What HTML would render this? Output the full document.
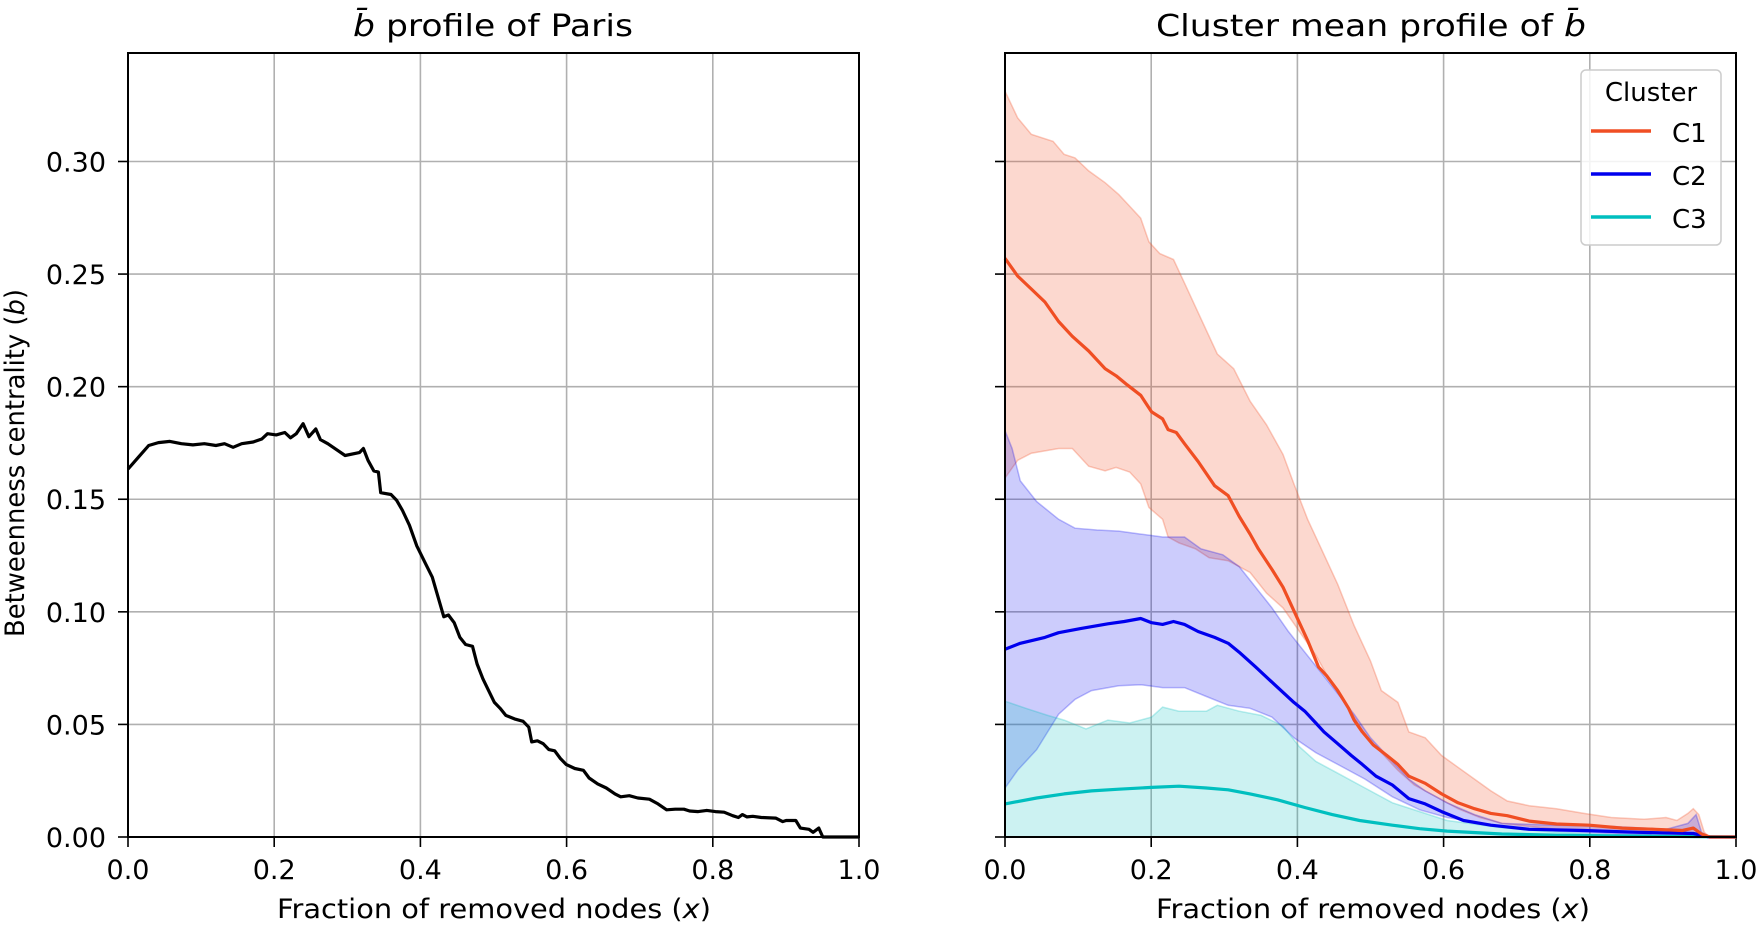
<!DOCTYPE html>
<html><head><meta charset="utf-8"><style>
html,body{margin:0;padding:0;background:#fff}
svg{display:block}
text{font-family:"DejaVu Sans","Liberation Sans",sans-serif;fill:#000}
</style></head><body>
<svg id="s" width="1759" height="925" viewBox="0 0 1759 925" xmlns="http://www.w3.org/2000/svg">
<g id="g"></g>
<text x="493" y="36" font-size="30" text-anchor="middle" textLength="280" lengthAdjust="spacingAndGlyphs"><tspan font-style="italic">b̄</tspan> profile of Paris</text>
<text x="1371" y="36" font-size="30" text-anchor="middle" textLength="430" lengthAdjust="spacingAndGlyphs">Cluster mean profile of <tspan font-style="italic">b̄</tspan></text>
<text x="494" y="918" font-size="27" text-anchor="middle" textLength="434" lengthAdjust="spacingAndGlyphs">Fraction of removed nodes (<tspan font-style="italic">x</tspan>)</text>
<text x="1373" y="918" font-size="27" text-anchor="middle" textLength="434" lengthAdjust="spacingAndGlyphs">Fraction of removed nodes (<tspan font-style="italic">x</tspan>)</text>
<text transform="translate(24,463) rotate(-90)" font-size="27" text-anchor="middle" textLength="348" lengthAdjust="spacingAndGlyphs">Betweenness centrality (<tspan font-style="italic">b</tspan>)</text>
<g id="leg">
<rect x="1581" y="70" width="140" height="175" rx="5" fill="#fff" fill-opacity="0.85" stroke="#ccc" stroke-width="1.5"/>
<text x="1651" y="101" font-size="26" text-anchor="middle">Cluster</text>
<line x1="1591" y1="131" x2="1651" y2="131" stroke="#f04e23" stroke-width="3.5"/>
<text x="1672" y="142" font-size="26">C1</text>
<line x1="1591" y1="174" x2="1651" y2="174" stroke="#0000ee" stroke-width="3.5"/>
<text x="1672" y="185" font-size="26">C2</text>
<line x1="1591" y1="217" x2="1651" y2="217" stroke="#00bfbf" stroke-width="3.5"/>
<text x="1672" y="228" font-size="26">C3</text>
</g>
</svg>
<script>
const NS="http://www.w3.org/2000/svg";
const g=document.getElementById('g');
function el(t,a){const e=document.createElementNS(NS,t);for(const k in a)e.setAttribute(k,a[k]);g.appendChild(e);return e;}
const Y0=837,YS=2251.7,W=731,TOP=53;
function py(y){return Y0-y*YS;}
const L=128,R=1005;
[L,R].forEach((ox,i)=>{
 for(let k=1;k<5;k++){const x=ox+k*0.2*W;el('line',{x1:x,y1:TOP,x2:x,y2:Y0,stroke:'#b0b0b0','stroke-width':1.6});}
 for(let k=1;k<=6;k++){const y=py(k*0.05);el('line',{x1:ox,y1:y,x2:ox+W,y2:y,stroke:'#b0b0b0','stroke-width':1.6});}
 for(let k=0;k<=5;k++){const x=ox+k*0.2*W;el('line',{x1:x,y1:Y0,x2:x,y2:Y0+10,stroke:'#000','stroke-width':1.6});
  const t=el('text',{x:x,y:879,'font-size':27,'text-anchor':'middle'});t.textContent=(k*0.2).toFixed(1);}
 for(let k=0;k<=6;k++){const y=py(k*0.05);el('line',{x1:ox-10,y1:y,x2:ox,y2:y,stroke:'#000','stroke-width':1.6});
  if(i==0){const t=el('text',{x:ox-22,y:y+10,'font-size':27,'text-anchor':'end'});t.textContent=(k*0.05).toFixed(2);}}
});
function conv(pts,ox,zx0,zw){return pts.map(p=>[ox+(p[0]-zx0)/zw*W, Y0-(1418-p[1])/(1144/0.30)*YS]);}
function pl(a){return a.map(p=>p[0].toFixed(1)+','+p[1].toFixed(1)).join(' ');}
function line(pts,col,w){el('polyline',{points:pl(pts),fill:'none',stroke:col,'stroke-width':w,'stroke-linejoin':'round'});}
function band(up,lo,col,a){const p=up.concat(lo.slice().reverse());el('polygon',{points:pl(p),fill:col,'fill-opacity':a,stroke:col,'stroke-opacity':a*1.3,'stroke-width':1.5});}
const paris=[[222,795],[240,775],[258,755],[275,750],[295,748],[315,752],[335,754],[355,752],[375,755],[390,752],[405,758],[420,752],[440,749],[455,744],[465,735],[480,737],[495,733],[505,742],[515,735],[527,718],[537,740],[549,727],[557,745],[570,752],[585,762],[600,772],[625,767],[632,760],[640,780],[650,798],[658,800],[662,835],[680,838],[690,848],[700,865],[712,890],[725,925],[740,955],[752,978],[760,1005],[772,1045],[780,1042],[790,1055],[800,1080],[810,1092],[822,1095],[830,1125],[840,1150],[850,1170],[860,1190],[870,1200],[880,1212],[895,1218],[910,1222],[920,1232],[925,1257],[935,1255],[945,1260],[955,1270],[965,1272],[975,1285],[985,1295],[1000,1302],[1015,1305],[1025,1318],[1040,1328],[1055,1335],[1070,1345],[1080,1350],[1095,1348],[1110,1352],[1130,1354],[1145,1362],[1160,1372],[1175,1371],[1190,1371],[1200,1374],[1215,1375],[1230,1373],[1245,1375],[1260,1376],[1275,1382],[1285,1385],[1292,1380],[1300,1384],[1310,1383],[1325,1385],[1350,1386],[1362,1392],[1368,1390],[1385,1390],[1393,1403],[1408,1405],[1415,1410],[1425,1403],[1432,1418],[1495,1418]];
line(conv(paris,L,222,1273),'#000',3.2);
const c=(p)=>conv(p,R,192,1336);
const c1u=[[192,155],[215,200],[240,228],[280,240],[300,262],[320,268],[345,290],[375,310],[400,330],[420,350],[440,370],[455,410],[475,430],[500,440],[520,480],[550,540],[580,600],[610,625],[640,680],[670,720],[700,770],[720,820],[745,880],[770,930],[800,990],[830,1060],[860,1120],[880,1170],[910,1190],[930,1240],[960,1250],[990,1280],[1020,1300],[1050,1320],[1080,1340],[1110,1357],[1150,1365],[1200,1370],[1250,1378],[1300,1385],[1360,1388],[1400,1385],[1420,1390],[1440,1378],[1450,1370],[1460,1380],[1470,1410],[1480,1418]];
const c1l=[[192,810],[215,780],[240,768],[290,760],[315,760],[345,790],[375,798],[395,792],[420,800],[440,820],[455,860],[480,880],[490,910],[510,920],[540,930],[565,945],[600,950],[640,970],[670,1005],[700,1030],[730,1070],[760,1110],[790,1160],[820,1200],[850,1245],[880,1275],[910,1305],[940,1330],[980,1350],[1020,1370],[1060,1385],[1100,1395],[1150,1400],[1200,1405],[1300,1410],[1400,1412],[1480,1418]];
const c2u=[[192,730],[205,760],[220,815],[250,850],[290,880],[320,895],[360,898],[400,900],[440,905],[480,910],[520,910],[550,930],[590,940],[620,960],[650,995],[680,1030],[710,1070],[740,1105],[770,1140],[800,1175],[830,1210],[860,1250],[890,1280],[930,1320],[960,1340],[1000,1360],[1050,1380],[1100,1395],[1200,1398],[1300,1400],[1400,1405],[1440,1395],[1455,1380],[1465,1410],[1480,1418]];
const c2l=[[192,1335],[215,1305],[250,1270],[290,1210],[320,1185],[350,1170],[400,1162],[440,1160],[480,1165],[520,1165],[560,1180],[600,1195],[640,1200],[680,1215],[720,1250],[760,1275],[800,1295],[850,1320],[900,1350],[950,1372],[1000,1385],[1100,1400],[1200,1408],[1300,1412],[1480,1418]];
const c3u=[[192,1188],[230,1200],[270,1212],[300,1220],[340,1235],[380,1220],[420,1225],[460,1215],[480,1198],[510,1205],[560,1205],[580,1195],[620,1205],[660,1212],[700,1230],[730,1265],[760,1290],[800,1310],[850,1335],[900,1360],[950,1375],[1000,1390],[1100,1402],[1200,1410],[1300,1414],[1528,1418]];
const c3l=[[192,1418],[1528,1418]];
band(c(c1u),c(c1l),'#f04e23',0.22);
band(c(c2u),c(c2l),'#0000ee',0.2);
band(c(c3u),c(c3l),'#00bfbf',0.2);
const c1=[[192,438],[215,468],[240,490],[265,512],[290,545],[315,570],[345,595],[375,625],[395,637],[415,652],[440,670],[460,698],[480,710],[490,728],[505,733],[520,752],[545,782],[575,823],[600,840],[620,875],[640,905],[655,930],[680,965],[700,995],[715,1025],[730,1055],[745,1085],[765,1130],[780,1145],[800,1170],[820,1200],[830,1220],[845,1240],[865,1262],[890,1280],[910,1295],[930,1315],[960,1327],[990,1345],[1020,1360],[1050,1370],[1080,1378],[1110,1382],[1150,1391],[1200,1396],[1260,1398],[1320,1403],[1380,1405],[1430,1407],[1450,1403],[1465,1413],[1480,1418],[1528,1418]];
const c2=[[192,1100],[220,1090],[265,1080],[290,1072],[330,1065],[380,1057],[410,1053],[440,1048],[460,1055],[480,1058],[500,1053],[520,1058],[545,1070],[575,1080],[600,1090],[620,1105],[650,1130],[685,1160],[720,1190],[740,1205],[760,1225],[775,1240],[800,1260],[825,1280],[845,1295],[870,1315],[900,1330],[930,1353],[960,1362],[990,1375],[1030,1390],[1080,1398],[1150,1405],[1250,1407],[1350,1410],[1450,1412],[1480,1418],[1528,1418]];
const c3=[[192,1362],[250,1352],[300,1345],[350,1340],[400,1337],[460,1334],[510,1332],[560,1335],[600,1338],[640,1345],[690,1355],[740,1368],[790,1380],[840,1390],[900,1398],[950,1404],[1000,1408],[1100,1413],[1200,1415],[1300,1416],[1528,1418]];
line(c(c3),'#00bfbf',3.2);
line(c(c2),'#0000ee',3.2);
line(c(c1),'#f04e23',3.2);
[L,R].forEach(ox=>el('rect',{x:ox,y:TOP,width:W,height:Y0-TOP,fill:'none',stroke:'#000','stroke-width':2}));
document.getElementById('s').appendChild(document.getElementById('leg'));
</script>
</body></html>
